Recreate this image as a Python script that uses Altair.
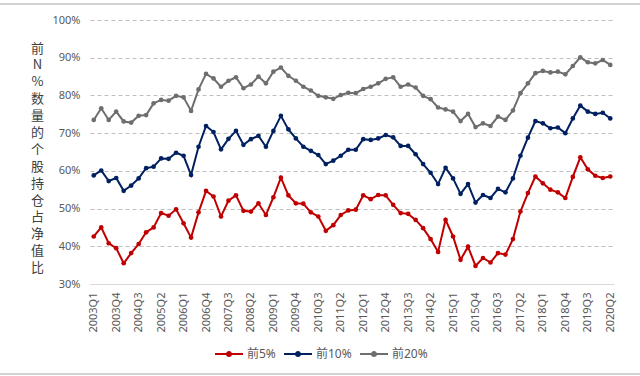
import altair as alt
import pandas as pd

quarters = [f"{y}Q{q}" for y in range(2003, 2021) for q in range(1, 5)][:70]
x_tick_labels = quarters[::3]
y_ticks = [30, 40, 50, 60, 70, 80, 90, 100]

top5 = [42.6, 45.0, 40.8, 39.5, 35.5, 38.2, 40.6, 43.7, 45.0, 48.8,
        48.1, 49.8, 46.1, 42.3, 49.0, 54.7, 53.2, 47.9, 52.1, 53.5,
        49.4, 49.2, 51.4, 48.3, 53.0, 58.2, 53.5, 51.4, 51.3, 49.0,
        47.9, 44.1, 45.6, 48.3, 49.5, 49.7, 53.5, 52.5, 53.6, 53.5,
        51.0, 48.8, 48.6, 47.0, 44.8, 41.9, 38.5, 47.0, 42.6, 36.4,
        39.9, 34.8, 36.9, 35.7, 38.2, 37.8, 41.9, 49.2, 54.1, 58.5,
        56.7, 55.0, 54.3, 52.8, 58.4, 63.6, 60.4, 58.7, 58.1, 58.5]
top10 = [58.8, 60.1, 57.3, 58.1, 54.7, 56.1, 58.0, 60.7, 61.1, 63.3,
         63.2, 64.8, 64.0, 58.9, 66.4, 71.9, 70.3, 65.7, 68.5, 70.6,
         66.9, 68.4, 69.3, 66.4, 70.6, 74.6, 71.0, 68.6, 66.4, 65.3,
         64.2, 61.8, 62.7, 64.0, 65.6, 65.6, 68.4, 68.2, 68.6, 69.5,
         68.9, 66.6, 66.6, 64.4, 61.8, 59.5, 56.5, 60.8, 58.0, 53.9,
         56.5, 51.6, 53.6, 52.8, 55.2, 54.3, 58.0, 64.0, 68.8, 73.2,
         72.6, 71.3, 71.5, 70.0, 73.9, 77.3, 75.7, 75.1, 75.4, 73.9]
top20 = [73.5, 76.6, 73.5, 75.7, 73.1, 72.8, 74.6, 74.8, 77.9, 78.8,
         78.6, 79.9, 79.5, 75.9, 81.6, 85.7, 84.5, 82.3, 83.9, 84.8,
         81.9, 82.9, 85.0, 83.2, 86.3, 87.4, 85.2, 83.9, 82.3, 81.3,
         79.9, 79.5, 79.1, 80.1, 80.7, 80.6, 81.7, 82.3, 83.2, 84.4,
         84.8, 82.3, 82.9, 82.1, 79.9, 79.0, 76.8, 76.3, 75.7, 73.2,
         75.1, 71.6, 72.6, 71.9, 74.4, 73.5, 76.0, 80.6, 83.2, 85.9,
         86.5, 86.1, 86.3, 85.6, 87.8, 90.1, 88.8, 88.5, 89.4, 88.1]

series_names = ["前5%", "前10%", "前20%"]
series_colors = ["#C00000", "#002060", "#6E6E6E"]
y_title = list("前N%数量的个股持仓占净值比")

rows = []
for name, vals in zip(series_names, [top5, top10, top20]):
    for q, v in zip(quarters, vals):
        rows.append({"quarter": q, "series": name, "value": v})
df = pd.DataFrame(rows)

FONT = "Noto Sans, Noto Sans CJK SC"
CJK = "Noto Sans CJK SC"

legend_symbol = (
    "M-1,-0.075L1,-0.075L1,0.075L-1,0.075Z"
    "M-0.22,0A0.22,0.22,0,1,1,0.22,0A0.22,0.22,0,1,1,-0.22,0Z"
)

lines = alt.Chart(df).mark_line(
    strokeWidth=2,
    point=alt.OverlayMarkDef(filled=True, size=22),
).encode(
    x=alt.X(
        "quarter:O", sort=quarters,
        scale=alt.Scale(padding=0.5),
        axis=alt.Axis(
            values=x_tick_labels, labelAngle=-90, ticks=False, title=None,
            domainColor="#D9D9D9", domainWidth=1, labelColor="#595959",
            labelFontSize=11, labelFont=FONT, labelPadding=8, grid=False,
        ),
    ),
    y=alt.Y(
        "value:Q",
        scale=alt.Scale(domain=[30, 100], nice=False, zero=False),
        axis=alt.Axis(
            values=y_ticks, labelExpr="datum.value + '%'", domain=False,
            ticks=False, labelPadding=10, labelColor="#595959",
            labelFontSize=11, labelFont=FONT,
            grid=True, gridDash=[4, 3], gridColor="#BFBFBF", gridWidth=1,
            title=y_title, titleAngle=0, titleX=-53, titleY=28,
            titleAlign="center", titleBaseline="middle",
            titleLineHeight=16.9, titleFontSize=13, titleFont=CJK,
            titleColor="#404040", titleFontWeight="normal",
        ),
    ),
    color=alt.Color(
        "series:N", sort=series_names,
        scale=alt.Scale(domain=series_names, range=series_colors),
        legend=alt.Legend(
            title=None, orient="none", legendX=125, legendY=320,
            direction="horizontal",
            symbolType=legend_symbol,
            symbolSize=784, symbolStrokeWidth=0,
            labelFontSize=12, labelFont=FONT, labelColor="#595959",
            columnPadding=8, labelOffset=4, padding=0,
        ),
    ),
)

frame = pd.DataFrame({"k": [0]})
top_rule = alt.Chart(frame).mark_rule(color="#A6A6A6", strokeWidth=1).encode(
    x=alt.value(-90), x2=alt.value(550), y=alt.value(-16)
)
bottom_rule = alt.Chart(frame).mark_rule(color="#A6A6A6", strokeWidth=1).encode(
    x=alt.value(-90), x2=alt.value(550), y=alt.value(354)
)

chart = alt.layer(lines, top_rule, bottom_rule).properties(
    width=524, height=264,
    autosize=alt.AutoSizeParams(type="none"),
    padding={"left": 90, "top": 20, "right": 26, "bottom": 92},
    background="white",
).configure_view(stroke=None)

chart.save("out.html", embed_options={"renderer": "svg", "actions": False})
